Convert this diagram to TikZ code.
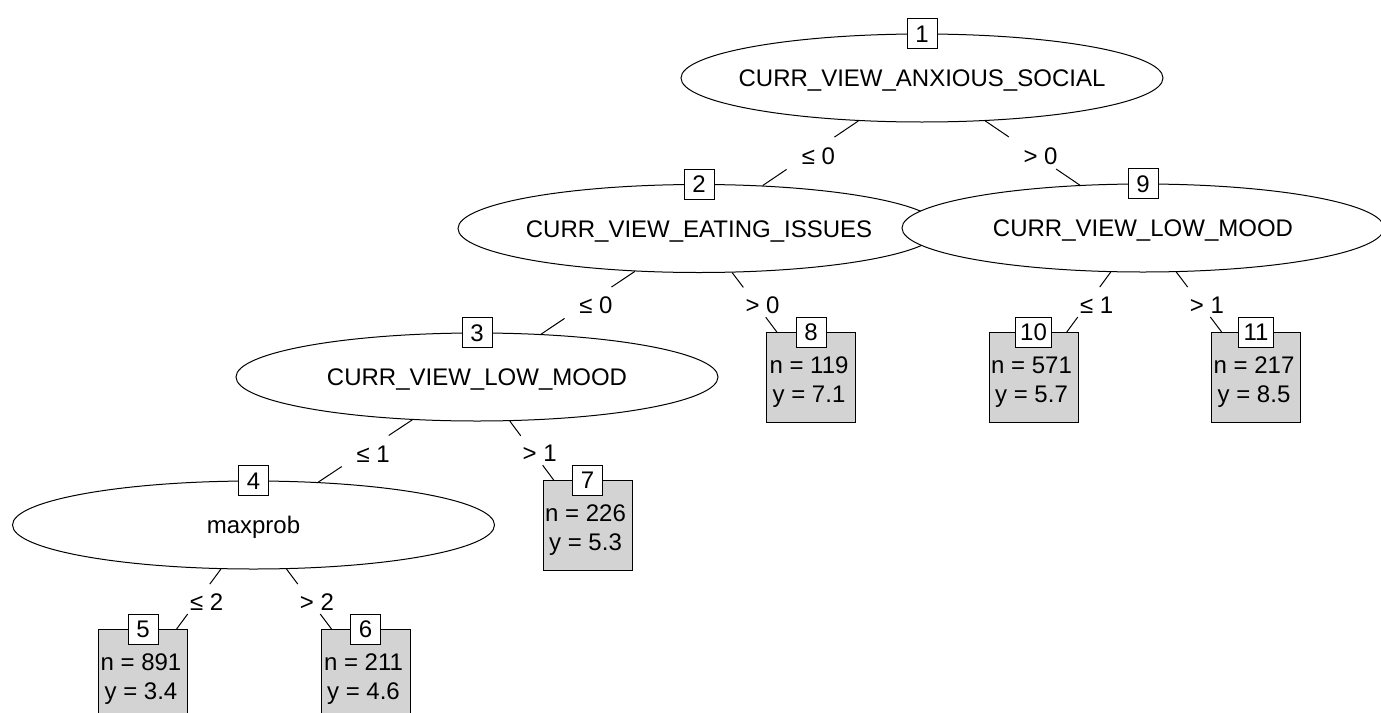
\documentclass[tikz,border=0pt]{standalone}
\usepackage{fontspec}
\setmainfont{Liberation Sans}
\usetikzlibrary{shapes.geometric,calc}
\definecolor{leafgray}{HTML}{D3D3D3}
\begin{document}
\begin{tikzpicture}[x=1pt,y=-1pt,
  every node/.style={font=\fontsize{24}{29}\selectfont},
  splitnode/.style={ellipse, draw, fill=white, line width=1pt,
    minimum width=482pt, minimum height=88pt, inner sep=0pt,
    text height=17.2pt, text depth=0pt},
  idbox/.style={rectangle, draw, fill=white, line width=1pt,
    minimum width=30pt, minimum height=30pt, inner xsep=5pt, inner ysep=0pt,
    text height=17.2pt, text depth=0pt},
  leafbox/.style={rectangle, draw, fill=leafgray, line width=1pt,
    minimum width=89pt, minimum height=90pt, inner sep=0pt, anchor=north},
  txt/.style={inner sep=0pt, text height=17.2pt, text depth=0pt},
  branchline/.style={line width=1pt}
]
\useasboundingbox (0,0) rectangle (1381,712);
\clip (0,0) rectangle (1381,712);

% an edge: line from parent to child with a gap holding the split label
\newcommand\branch[3]{%
  \path (#1) -- (#2) coordinate[pos=0.25] (#1#2a) coordinate[pos=0.5] (#1#2m)
    coordinate[pos=0.75] (#1#2b);
  \draw[branchline] (#1) -- (#1#2a);
  \draw[branchline] (#1#2b) -- (#2);
  \node[txt, xshift=8pt, yshift=-2.5pt] at (#1#2m) {#3};
}
% a terminal node with its id box and summary lines
\newcommand\leafnode[5]{%
  \node[leafbox] (#1) at (#2) {};
  \node[idbox] (#1id) at (#1.north) {#3};
  \node[txt] (#1n) at ($(#1.north)+(-2,33)$) {n = #4};
  \node[txt] (#1y) at ($(#1.north)+(-2,62)$) {y = #5};
}
% zero-width label so the ellipse size is set by its minimum size only
\newcommand\vname[1]{\makebox[0pt]{#1}}

% inner split nodes
\node[splitnode] (n1) at (922,78) {\vname{CURR\_VIEW\_ANXIOUS\_SOCIAL}};
\node[idbox] (n1id) at (n1.north) {1};
\node[splitnode] (n2) at (699,228.5) {\vname{CURR\_VIEW\_EATING\_ISSUES}};
\node[idbox] (n2id) at (n2.north) {2};
\node[splitnode] (n9) at (1143,228) {\vname{CURR\_VIEW\_LOW\_MOOD}};
\node[idbox] (n9id) at (n9.north) {9};
\node[splitnode] (n3) at (477,377) {\vname{CURR\_VIEW\_LOW\_MOOD}};
\node[idbox] (n3id) at (n3.north) {3};
\node[splitnode] (n4) at (253.5,525) {\vname{maxprob}};
\node[idbox] (n4id) at (n4.north) {4};

% terminal nodes
\leafnode{l5}{143,629}{5}{891}{3.4}
\leafnode{l6}{365.5,629}{6}{211}{4.6}
\leafnode{l7}{587.5,480}{7}{226}{5.3}
\leafnode{l8}{811,332}{8}{119}{7.1}
\leafnode{l10}{1033.5,332}{10}{571}{5.7}
\leafnode{l11}{1256,332}{11}{217}{8.5}

% edges
\branch{n1}{n2}{≤ 0}
\branch{n1}{n9}{> 0}
\branch{n2}{n3}{≤ 0}
\branch{n2}{l8}{> 0}
\branch{n3}{n4}{≤ 1}
\branch{n3}{l7}{> 1}
\branch{n4}{l5}{≤ 2}
\branch{n4}{l6}{> 2}
\branch{n9}{l10}{≤ 1}
\branch{n9}{l11}{> 1}
\end{tikzpicture}
\end{document}
